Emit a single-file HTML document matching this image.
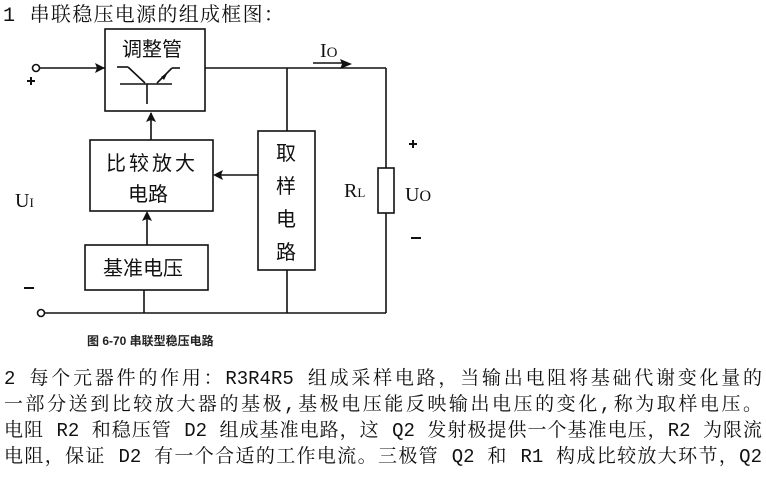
<!DOCTYPE html>
<html><head><meta charset="utf-8"><style>
html,body{margin:0;padding:0;background:#fff;width:766px;height:477px;overflow:hidden}
.t{position:absolute;left:4px;width:758px;font-family:"Liberation Mono","Noto Serif CJK SC",serif;font-size:19px;line-height:26px;color:#111;text-align:justify;text-align-last:justify;white-space:nowrap}
</style></head><body>
<svg width="766" height="477" style="position:absolute;left:0;top:0" font-family="'Liberation Sans','Noto Sans CJK SC',sans-serif">
<text x="3" y="21" font-family="'Liberation Mono','Noto Serif CJK SC',serif" font-size="20" letter-spacing="1.3" fill="#111">1 串联稳压电源的组成框图：</text>
<g stroke="#111" stroke-width="1.6" fill="none">
<circle cx="36" cy="68" r="3.5" fill="#fff"/>
<circle cx="41" cy="313" r="3.5" fill="#fff"/>
<line x1="40" y1="68" x2="105" y2="68"/>
<rect x="105" y="29" width="100" height="82"/>
<line x1="205" y1="68" x2="386" y2="68"/>
<line x1="386" y1="68" x2="386" y2="168"/>
<rect x="378" y="168" width="16" height="45"/>
<line x1="386" y1="213" x2="386" y2="313"/>
<line x1="45" y1="313" x2="386" y2="313"/>
<rect x="90" y="140" width="123" height="71"/>
<rect x="85" y="245" width="123" height="45"/>
<rect x="258" y="131" width="57" height="139"/>
<line x1="287" y1="68" x2="287" y2="131"/>
<line x1="287" y1="270" x2="287" y2="313"/>
<line x1="258" y1="175" x2="215" y2="175"/>
<line x1="151" y1="140" x2="151" y2="113"/>
<line x1="147" y1="245" x2="147" y2="213"/>
<line x1="144" y1="290" x2="144" y2="313"/>
<line x1="313" y1="63" x2="345" y2="63"/>
<line x1="117" y1="67" x2="128" y2="67"/>
<line x1="128" y1="67" x2="145" y2="83"/>
<line x1="157" y1="83" x2="172" y2="68"/>
<line x1="172" y1="68" x2="180" y2="68"/>
<line x1="120" y1="84" x2="172" y2="84"/>
<line x1="147" y1="84" x2="147" y2="104"/>
</g>
<g fill="#111">
<polygon points="105,68 95,63 97,68 95,73"/>
<polygon points="352,64 340,59 342,64 340,69"/>
<polygon points="213,175 223,170 221,175 223,180"/>
<polygon points="151,112 146,122 151,120 156,122"/>
<polygon points="147,211 142,221 147,219 152,221"/>
<polygon points="168,72 161,77 164,80"/>
</g>
<g font-size="20" fill="#111" text-anchor="middle">
<text x="152" y="56">调整管</text>
<text x="152" y="170" letter-spacing="3">比较放大</text>
<text x="148" y="201">电路</text>
<text x="143" y="275">基准电压</text>
<text x="286" y="160">取</text>
<text x="286" y="193">样</text>
<text x="286" y="226">电</text>
<text x="286" y="259">路</text>
</g>
<g font-family="'Liberation Serif',serif" font-size="20" fill="#111">
<text x="320" y="57">I<tspan font-size="15">O</tspan></text>
<text x="344" y="197">R<tspan font-size="13">L</tspan></text>
<text x="405" y="201">U<tspan font-size="16">O</tspan></text>
<text x="15" y="207">U<tspan font-size="13">I</tspan></text>
</g>
<g stroke="#111" stroke-width="2">
<line x1="409" y1="144" x2="417" y2="144"/><line x1="413" y1="140" x2="413" y2="148"/>
<line x1="27" y1="81" x2="35" y2="81"/><line x1="31" y1="77" x2="31" y2="85"/>
<line x1="411" y1="238" x2="421" y2="238"/>
<line x1="24" y1="288" x2="34" y2="288"/>
</g>
<text x="87" y="345" font-size="12" font-weight="bold" fill="#222">图 6-70  串联型稳压电路</text>
</svg>
<div class="t" style="top:366px">2 每个元器件的作用：R3R4R5 组成采样电路，当输出电阻将基础代谢变化量的</div>
<div class="t" style="top:392px">一部分送到比较放大器的基极,基极电压能反映输出电压的变化,称为取样电压。</div>
<div class="t" style="top:418px">电阻 R2 和稳压管 D2 组成基准电路，这 Q2 发射极提供一个基准电压，R2 为限流</div>
<div class="t" style="top:444px">电阻，保证 D2 有一个合适的工作电流。三极管 Q2 和 R1 构成比较放大环节，Q2</div>
</body></html>
